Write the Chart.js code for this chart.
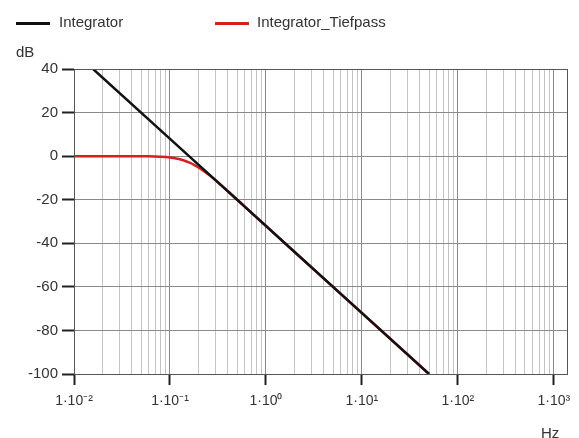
<!DOCTYPE html>
<html>
<head>
<meta charset="utf-8">
<script src="https://cdn.jsdelivr.net/npm/chart.js@4.4.0/dist/chart.umd.min.js"></script>
<style>
  html, body { margin: 0; padding: 0; background: #fff; }
  #wrap { position: relative; width: 579px; height: 438px; font-family: "Liberation Sans", Arial, sans-serif; color: #333; }
  canvas { position: absolute; left: 0; top: 0; }
  .lbl { position: absolute; font-size: 15px; white-space: nowrap; }
  .swatch { position: absolute; height: 3px; width: 34px; }
</style>
</head>
<body>
<div id="wrap">
  <canvas id="chart" width="579" height="438"></canvas>
  <div class="swatch" style="left:16px;top:22px;background:#111;"></div>
  <div class="lbl" style="left:59px;top:13px;">Integrator</div>
  <div class="swatch" style="left:215px;top:22px;background:#d42020;"></div>
  <div class="lbl" style="left:257px;top:13px;">Integrator_Tiefpass</div>
  <div class="lbl" style="left:16px;top:43px;">dB</div>
  <div class="lbl" style="left:541px;top:424px;">Hz</div>
</div>
<script>
// Frequency axis (Hz), log scale
const decades = [0.01, 0.1, 1, 10, 100, 1000];
const decadeLabels = ['1·10⁻²', '1·10⁻¹', '1·10⁰', '1·10¹', '1·10²', '1·10³'];
const xMin = 0.01;
const xMax = 1370;

// Gain axis (dB)
const yMin = -100;
const yMax = 40;
const yStep = 20;

// Integrator: straight line
const integratorFreq = [0.0158, 0.158, 1.58, 15.8, 50];
const integratorDb   = [40, 0, -40, -80, -100];

// Integrator_Tiefpass: flat then bends onto the integrator line
const tiefpassFreq = [0.01, 0.03, 0.06, 0.08, 0.1, 0.12, 0.14, 0.16, 0.18, 0.2, 0.25, 0.3, 0.4, 0.5, 0.7, 1, 1.5, 3, 10, 50];
const tiefpassDb   = [0, 0, -0.1, -0.3, -0.6, -1.2, -2.0, -3.0, -4.1, -5.3, -8.3, -11.1, -16.0, -19.9, -25.8, -32.0, -39.1, -51.2, -72.0, -100];

function toPoints(xs, ys) {
  return xs.map((x, i) => ({ x: x, y: ys[i] }));
}

// Minor gridlines at 1..9 x each decade
const gridValues = [];
decades.forEach(d => {
  for (let m = 1; m <= 9; m++) {
    const v = d * m;
    if (v <= xMax) gridValues.push(v);
  }
});

function isDecade(v) {
  return decades.some(d => Math.abs(d - v) / d < 1e-6);
}

// Box around the plot area (top and right edges)
const frame = {
  id: 'frame',
  afterDraw(chart) {
    const a = chart.chartArea;
    const ctx = chart.ctx;
    ctx.save();
    ctx.strokeStyle = '#555';
    ctx.lineWidth = 1;
    ctx.strokeRect(a.left + 0.5, a.top + 0.5, a.right - a.left, a.bottom - a.top);
    ctx.restore();
  }
};

new Chart(document.getElementById('chart').getContext('2d'), {
  type: 'scatter',
  data: {
    datasets: [
      {
        label: 'Integrator_Tiefpass',
        data: toPoints(tiefpassFreq, tiefpassDb),
        showLine: true,
        borderColor: '#d42020',
        borderWidth: 2.5,
        pointRadius: 0,
        tension: 0.3,
        order: 2
      },
      {
        label: 'Integrator',
        data: toPoints(integratorFreq, integratorDb),
        showLine: true,
        borderColor: '#111',
        borderWidth: 2.5,
        pointRadius: 0,
        order: 1
      }
    ]
  },
  options: {
    responsive: false,
    animation: false,
    layout: { padding: { left: 0, top: 69, right: 12, bottom: 0 } },
    plugins: { legend: { display: false }, tooltip: { enabled: false } },
    scales: {
      x: {
        type: 'logarithmic',
        min: xMin,
        max: xMax,
        afterBuildTicks: scale => {
          scale.ticks = gridValues.map(v => ({ value: v }));
        },
        afterFit: scale => { scale.height = 64; },
        ticks: {
          autoSkip: false,
          maxRotation: 0,
          padding: 8,
          color: '#333',
          font: { family: 'Liberation Sans', size: 14 },
          callback: (value) => {
            const i = decades.findIndex(d => Math.abs(d - value) / d < 1e-6);
            return i >= 0 ? decadeLabels[i] : '';
          }
        },
        grid: {
          color: ctx => (ctx.tick && isDecade(ctx.tick.value)) ? '#8a8a8a' : '#c4c4c4',
          tickColor: ctx => (ctx.tick && isDecade(ctx.tick.value)) ? '#222' : 'rgba(0,0,0,0)',
          tickLength: 11,
          tickWidth: 2
        },
        border: { display: true, color: '#333', width: 1 }
      },
      y: {
        min: yMin,
        max: yMax,
        afterFit: scale => { scale.width = 74; },
        ticks: {
          stepSize: yStep,
          padding: 4,
          color: '#333',
          font: { family: 'Liberation Sans', size: 15 }
        },
        grid: {
          color: '#8a8a8a',
          tickColor: '#222',
          tickLength: 12,
          tickWidth: 2
        },
        border: { display: true, color: '#333', width: 1 }
      }
    }
  },
  plugins: [frame]
});
</script>
</body>
</html>
